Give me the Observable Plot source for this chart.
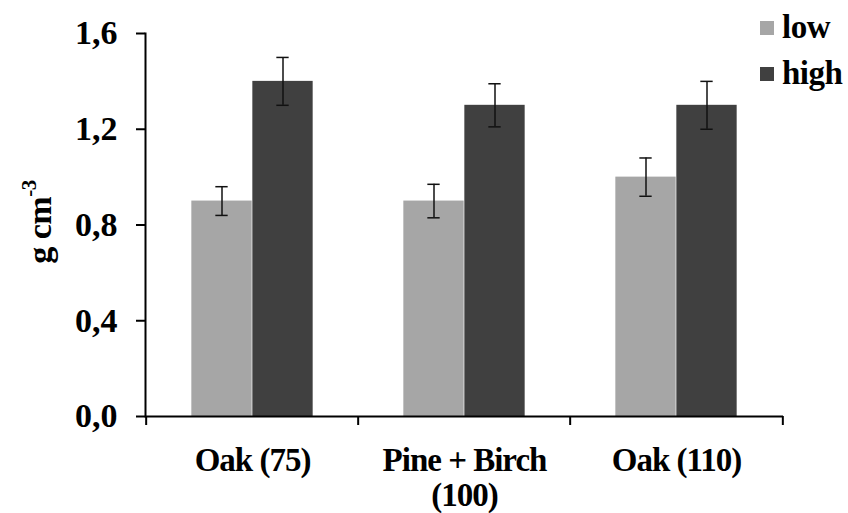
<!DOCTYPE html>
<html><head><meta charset="utf-8">
<script src="https://cdn.jsdelivr.net/npm/d3@7"></script>
<script src="https://cdn.jsdelivr.net/npm/@observablehq/plot@0.6"></script>
<style>
body{margin:0;background:#fff;}
#wrap{position:relative;width:848px;height:513px;font-family:"Liberation Serif","Times New Roman",serif;font-weight:bold;color:#000;}
#ylab{position:absolute;left:38px;top:222px;transform:translate(-50%,-50%) rotate(-90deg);font-size:34px;white-space:nowrap;line-height:1;letter-spacing:-0.5px;}
#ylab sup{font-size:0.62em;vertical-align:0.75em;}
.leg{position:absolute;left:760px;font-size:33px;line-height:1;display:flex;align-items:center;letter-spacing:-0.5px;}
.leg span.sw{display:inline-block;width:14px;height:14px;margin-right:8px;}
svg g[aria-label="x-axis tick label"] text{letter-spacing:-1px;}
</style></head><body><div id="wrap"></div>
<script>
const categories = ["Oak (75)", "Pine + Birch (100)", "Oak (110)"];
const tickLabels = ["Oak (75)", "Pine + Birch\n(100)", "Oak (110)"];
const series = ["low", "high"];
const lowValues = [0.90, 0.90, 1.00];
const lowErrors = [0.06, 0.07, 0.08];
const highValues = [1.40, 1.30, 1.30];
const highErrors = [0.10, 0.09, 0.10];
const yTicks = [0, 0.4, 0.8, 1.2, 1.6];
const colors = ["#a6a6a6", "#404040"];

const W = 848, H = 513, mL = 145, mR = 65, mT = 33, mB = 97;
const bw = (W - mL - mR) / categories.length;
const barW = 61, off = barW / 2, capW = 13;

const lowRows = categories.map((c, i) => ({cat: c, v: lowValues[i], e: lowErrors[i]}));
const highRows = categories.map((c, i) => ({cat: c, v: highValues[i], e: highErrors[i]}));
const font = "'Liberation Serif', 'Times New Roman', serif";

const plot = Plot.plot({
  width: W, height: H,
  marginLeft: mL, marginRight: mR, marginTop: mT, marginBottom: mB,
  style: {fontFamily: font, background: "#fff", color: "#000", overflow: "visible"},
  x: {domain: categories, padding: 0},
  y: {domain: [0, 1.6]},
  marks: [
    Plot.barY(lowRows, {x: "cat", y: "v", fill: colors[0], insetLeft: bw / 2 - barW, insetRight: bw / 2}),
    Plot.barY(highRows, {x: "cat", y: "v", fill: colors[1], insetLeft: bw / 2, insetRight: bw / 2 - barW}),
    Plot.ruleX(lowRows, {x: "cat", y1: d => d.v - d.e, y2: d => d.v + d.e, dx: -off, stroke: "#111", strokeWidth: 1.5}),
    Plot.ruleX(highRows, {x: "cat", y1: d => d.v - d.e, y2: d => d.v + d.e, dx: off, stroke: "#111", strokeWidth: 1.5}),
    Plot.tickY(lowRows, {x: "cat", y: d => d.v - d.e, stroke: "#111", strokeWidth: 1.5, insetLeft: bw / 2 - off - capW / 2, insetRight: bw / 2 + off - capW / 2}),
    Plot.tickY(lowRows, {x: "cat", y: d => d.v + d.e, stroke: "#111", strokeWidth: 1.5, insetLeft: bw / 2 - off - capW / 2, insetRight: bw / 2 + off - capW / 2}),
    Plot.tickY(highRows, {x: "cat", y: d => d.v - d.e, stroke: "#111", strokeWidth: 1.5, insetLeft: bw / 2 + off - capW / 2, insetRight: bw / 2 - off - capW / 2}),
    Plot.tickY(highRows, {x: "cat", y: d => d.v + d.e, stroke: "#111", strokeWidth: 1.5, insetLeft: bw / 2 + off - capW / 2, insetRight: bw / 2 - off - capW / 2}),
    Plot.ruleY([0], {stroke: "#000", strokeWidth: 2}),
    Plot.frame({anchor: "left", stroke: "#000", strokeWidth: 2}),
    Plot.ruleX(categories, {x: d => d, y1: 0, y2: 0, dx: -bw / 2, insetBottom: -9, stroke: "#000", strokeWidth: 2}),
    Plot.ruleX(categories.slice(-1), {x: d => d, y1: 0, y2: 0, dx: bw / 2, insetBottom: -9, stroke: "#000", strokeWidth: 2}),
    Plot.axisY({ticks: yTicks, tickFormat: d => d.toFixed(1).replace(".", ","), tickSize: 9, tickPadding: 19, strokeWidth: 2, stroke: "#000", fontSize: 34, fontWeight: "bold", fill: "#000", label: null}),
    Plot.axisX({tickSize: 0, tickPadding: 30, tickFormat: d => tickLabels[categories.indexOf(d)], fontSize: 33, fontWeight: "bold", fill: "#000", lineHeight: 1.05, label: null})
  ]
});

const wrap = document.getElementById("wrap");
wrap.appendChild(plot);
const yl = document.createElement("div");
yl.id = "ylab";
yl.innerHTML = "g cm<sup>-3</sup>";
wrap.appendChild(yl);
series.forEach((s, i) => {
  const d = document.createElement("div");
  d.className = "leg";
  d.style.top = (i === 0 ? 11 : 57) + "px";
  d.innerHTML = `<span class="sw" style="background:${colors[i]}"></span>${s}`;
  wrap.appendChild(d);
});
</script></body></html>
